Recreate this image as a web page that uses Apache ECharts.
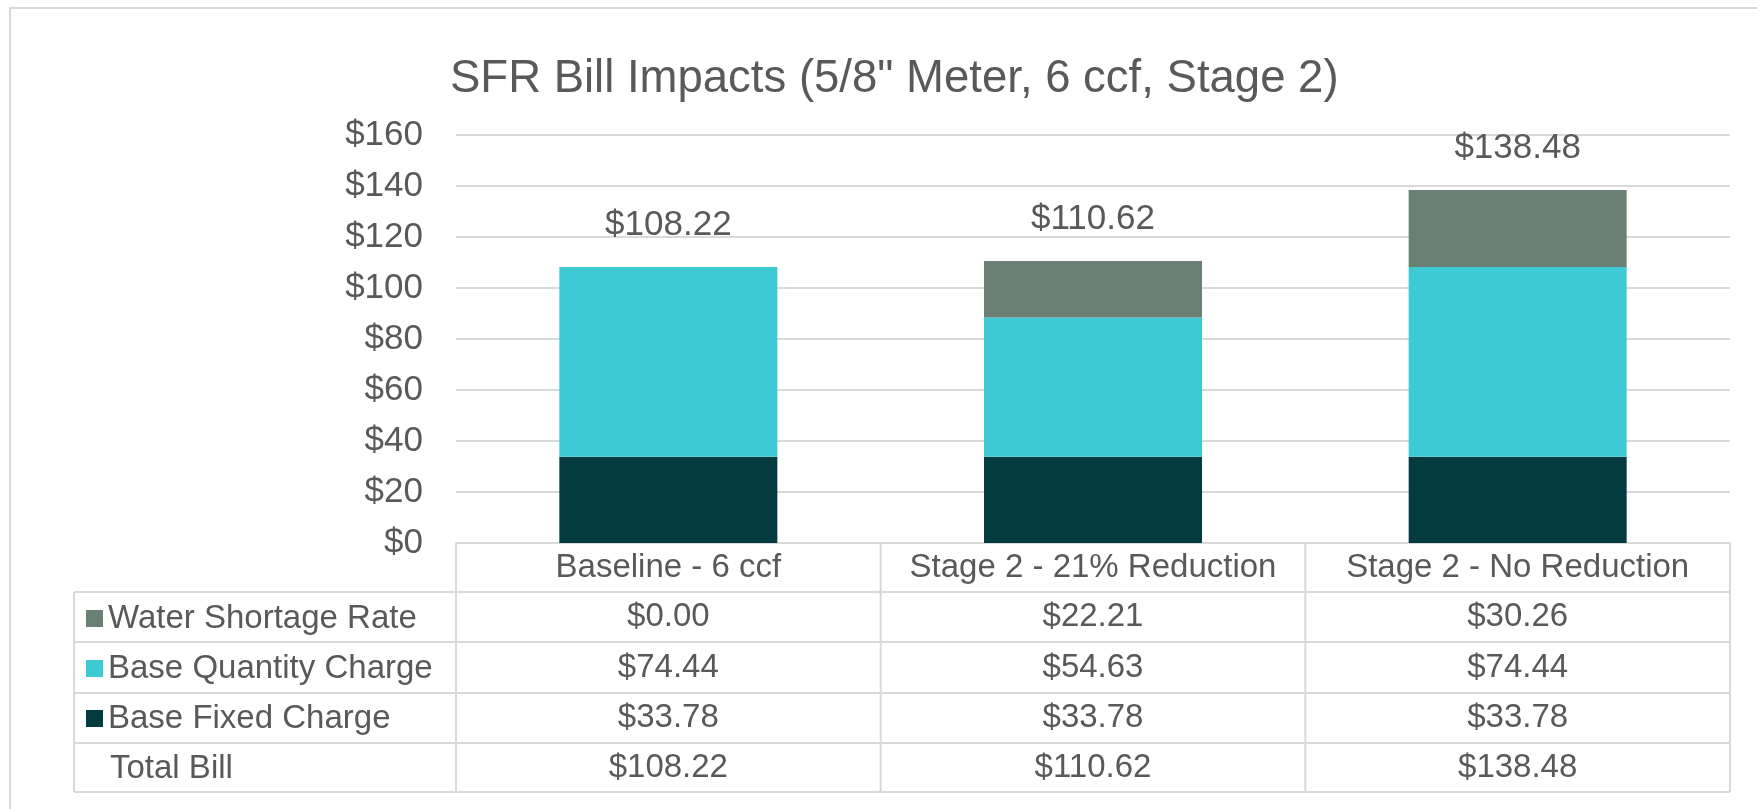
<!DOCTYPE html>
<html>
<head>
<meta charset="utf-8">
<script src="https://cdn.jsdelivr.net/npm/echarts@6/dist/echarts.min.js"></script>
<style>
  html, body { margin: 0; padding: 0; background: #fff; }
  #chart { width: 1757px; height: 809px; }
</style>
</head>
<body>
<div id="chart"></div>
<script>
const categories = ['Baseline - 6 ccf', 'Stage 2 - 21% Reduction', 'Stage 2 - No Reduction']
const baseFixed = [33.78, 33.78, 33.78]
const baseQuantity = [74.44, 54.63, 74.44]
const waterShortage = [0.00, 22.21, 30.26]
const totalBill = [108.22, 110.62, 138.48]
const yMin = 0
const yMax = 160
const yStep = 20

const FONT = '"Liberation Sans", Arial, sans-serif'
const TEXT = '#595959'
const LINE = '#d9d9d9'
const colors = { fixed: '#033b40', quantity: '#3ecad5', shortage: '#6b8074' }

const gridLeft = 456, gridRight = 1730, gridTop = 135, gridBottom = 543
const tableLeft = 74
const rowLines = [592, 642, 693, 743, 792]

const money = v => '$' + v.toFixed(2)

let myChart = echarts.init(document.getElementById('chart'))
myChart.setOption({
    animation: false,
    title: {
        text: 'SFR Bill Impacts (5/8" Meter, 6 ccf, Stage 2)',
        left: 445,
        top: 51,
        textStyle: { fontFamily: FONT, fontSize: 45.5, fontWeight: 'normal', color: TEXT }
    },
    legend: {
        orient: 'vertical',
        left: 81,
        top: 597,
        itemWidth: 17,
        itemHeight: 17,
        itemGap: 17,
        icon: 'rect',
        data: ['Water Shortage Rate', 'Base Quantity Charge', 'Base Fixed Charge'],
        textStyle: { fontFamily: FONT, fontSize: 33, color: TEXT, lineHeight: 33 }
    },
    grid: {
        left: gridLeft,
        right: 1757 - gridRight,
        top: gridTop,
        bottom: 809 - gridBottom
    },
    xAxis: {
        type: 'category',
        data: categories,
        axisTick: { show: false },
        axisLine: { lineStyle: { color: LINE, width: 2 } },
        axisLabel: { fontFamily: FONT, fontSize: 33, color: TEXT, margin: 8, interval: 0 }
    },
    yAxis: {
        type: 'value',
        min: yMin,
        max: yMax,
        interval: yStep,
        axisLine: { show: false },
        axisTick: { show: false },
        splitLine: { lineStyle: { color: LINE, width: 2 } },
        axisLabel: {
            fontFamily: FONT, fontSize: 35, color: TEXT, margin: 33,
            formatter: v => '$' + v
        }
    },
    series: [
        {
            name: 'Base Fixed Charge',
            type: 'bar',
            stack: 'bill',
            barWidth: 218,
            itemStyle: { color: colors.fixed },
            data: baseFixed
        },
        {
            name: 'Base Quantity Charge',
            type: 'bar',
            stack: 'bill',
            itemStyle: { color: colors.quantity },
            data: baseQuantity
        },
        {
            name: 'Water Shortage Rate',
            type: 'bar',
            stack: 'bill',
            itemStyle: { color: colors.shortage },
            label: {
                show: true,
                position: 'top',
                distance: 24,
                fontFamily: FONT,
                fontSize: 35,
                color: TEXT,
                formatter: p => money(totalBill[p.dataIndex])
            },
            data: waterShortage
        }
    ]
})

// data table under the chart
const tableRows = [waterShortage, baseQuantity, baseFixed, totalBill]
const graphic = []
const line = (x1, y1, x2, y2) => graphic.push({
    type: 'line',
    shape: { x1: x1, y1: y1, x2: x2, y2: y2 },
    style: { stroke: LINE, lineWidth: 2 },
    silent: true
})

// outer frame
graphic.push({
    type: 'rect',
    shape: { x: 10, y: 8, width: 1800, height: 900 },
    style: { stroke: LINE, lineWidth: 2, fill: null },
    silent: true
})

const band = (gridRight - gridLeft) / categories.length
rowLines.forEach(y => line(tableLeft, y, gridRight, y))
line(tableLeft, rowLines[0], tableLeft, rowLines[rowLines.length - 1])
for (let i = 0; i <= categories.length; i++) {
    const x = gridLeft + i * band
    line(x, gridBottom, x, rowLines[rowLines.length - 1])
}

graphic.push({
    type: 'text',
    x: 110,
    y: (rowLines[3] + rowLines[4]) / 2 + 1,
    style: { text: 'Total Bill', font: '33px ' + FONT, fill: TEXT, textVerticalAlign: 'middle' }
})

tableRows.forEach((vals, r) => {
    const cy = (rowLines[r] + rowLines[r + 1]) / 2
    vals.forEach((v, i) => {
        const cx = myChart.convertToPixel({ xAxisIndex: 0 }, categories[i])
        graphic.push({
            type: 'text',
            x: cx,
            y: cy,
            style: {
                text: money(v), font: '33px ' + FONT, fill: TEXT,
                textAlign: 'center', textVerticalAlign: 'middle'
            }
        })
    })
})

myChart.setOption({ graphic: graphic })
</script>
</body>
</html>
